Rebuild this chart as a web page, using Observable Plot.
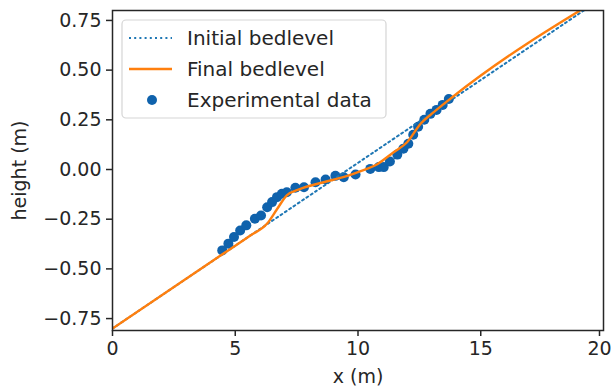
<!DOCTYPE html>
<html>
<head>
<meta charset="utf-8">
<script src="https://cdn.jsdelivr.net/npm/d3@7"></script>
<script src="https://cdn.jsdelivr.net/npm/@observablehq/plot@0.6"></script>
<style>
  html, body { margin: 0; padding: 0; background: #fff; }
  #chart svg { display: block; }
</style>
</head>
<body>
<div id="chart"></div>
<script>
// Initial bed level (straight slope)
const initialX = [0, 20];
const initialY = [-0.8, 0.867];

// Final bed level
const finalX = [0, 4.4, 5.6, 6.3, 6.7, 7.1, 7.6, 8.6, 9.5, 10.0, 10.8, 11.45, 12.0, 12.55, 13.1, 13.8, 20];
const finalY = [-0.8, -0.433, -0.333, -0.272, -0.2, -0.13, -0.1, -0.064, -0.035, -0.013, 0.028, 0.087, 0.137, 0.23, 0.29, 0.36, 0.872];

// Experimental data
const expX = [4.47, 4.72, 4.95, 5.2, 5.45, 5.8, 6.05, 6.3, 6.5, 6.7, 6.9, 7.1, 7.45, 7.8, 8.27, 8.68, 9.08, 9.42, 9.9, 10.5, 10.85, 11.05, 11.3, 11.6, 11.85, 12.05, 12.25, 12.45, 12.7, 12.95, 13.2, 13.45, 13.7];
const expY = [-0.407, -0.373, -0.34, -0.307, -0.281, -0.248, -0.231, -0.19, -0.164, -0.139, -0.122, -0.114, -0.092, -0.089, -0.064, -0.05, -0.032, -0.039, -0.025, 0.003, 0.012, 0.012, 0.04, 0.075, 0.105, 0.13, 0.175, 0.215, 0.25, 0.28, 0.3, 0.325, 0.355];

const xTicks = [0, 5, 10, 15, 20];
const yTicks = [-0.75, -0.5, -0.25, 0, 0.25, 0.5, 0.75];

const legendLabels = ["Initial bedlevel", "Final bedlevel", "Experimental data"];

const initial = initialX.map((x, i) => ({x, y: initialY[i]}));
const final = finalX.map((x, i) => ({x, y: finalY[i]}));
const exp = expX.map((x, i) => ({x, y: expY[i]}));

const C_INIT = "#1f77b4";
const C_FINAL = "#ff7f0e";
const C_DOT = "#0f62ac";
const INK = "#262626";
const FS = 19;

const plot = Plot.plot({
  width: 614,
  height: 387,
  marginLeft: 112,
  marginRight: 11,
  marginTop: 10,
  marginBottom: 57,
  style: {fontFamily: "DejaVu Sans", fontSize: FS + "px", color: INK, background: "#fff"},
  x: {domain: [0, 20]},
  y: {domain: [-0.81, 0.80]},
  marks: [
    Plot.dot(exp, {x: "x", y: "y", r: 5, fill: C_DOT, stroke: "none"}),
    Plot.line(initial, {x: "x", y: "y", stroke: C_INIT, strokeWidth: 2, strokeDasharray: "2,3.2", clip: true}),
    Plot.line(final, {x: "x", y: "y", stroke: C_FINAL, strokeWidth: 2.4, clip: true, curve: "monotone-x"}),
    Plot.frame({stroke: INK, strokeWidth: 1.5}),
    Plot.axisX({ticks: xTicks.slice(0, -1), tickSize: 6, tickPadding: 5, stroke: INK, strokeWidth: 1.5, fontSize: FS,
      label: "x (m)", labelAnchor: "center", labelArrow: "none", labelOffset: 52}),
    Plot.axisX({ticks: xTicks.slice(-1), tickSize: 6, tickPadding: 5, stroke: INK, strokeWidth: 1.5, fontSize: FS,
      dx: -4, label: null}),
    Plot.axisY({ticks: yTicks, tickSize: 6, tickPadding: 5, stroke: INK, strokeWidth: 1.5, fontSize: FS,
      tickFormat: d3.format(".2f"),
      label: "height (m)", labelAnchor: "center", labelArrow: "none", labelOffset: 100})
  ]
});

// Legend inside the frame (upper left)
const svg = d3.select(plot);
const lg = svg.append("g").attr("font-family", "DejaVu Sans").attr("font-size", FS + 1)
  .attr("text-anchor", "start");
lg.append("rect").attr("x", 122).attr("y", 20).attr("width", 264).attr("height", 98)
  .attr("rx", 4).attr("fill", "#fff").attr("fill-opacity", 0.85)
  .attr("stroke", "#d5d5d5").attr("stroke-width", 1.2);
const rows = [38, 69, 100];
lg.append("line").attr("x1", 129).attr("x2", 172).attr("y1", rows[0]).attr("y2", rows[0])
  .attr("stroke", C_INIT).attr("stroke-width", 2).attr("stroke-dasharray", "2,3.2");
lg.append("line").attr("x1", 129).attr("x2", 172).attr("y1", rows[1]).attr("y2", rows[1])
  .attr("stroke", C_FINAL).attr("stroke-width", 2.4);
lg.append("circle").attr("cx", 152).attr("cy", rows[2]).attr("r", 5).attr("fill", C_DOT);
legendLabels.forEach((t, i) => {
  lg.append("text").attr("x", 187).attr("y", rows[i]).attr("dy", "0.35em")
    .attr("text-anchor", "start").attr("fill", INK).text(t);
});

document.getElementById("chart").appendChild(plot);
</script>
</body>
</html>
